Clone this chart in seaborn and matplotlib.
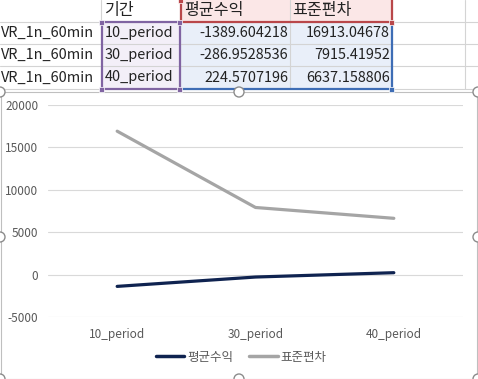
import matplotlib
matplotlib.use("Agg")
import matplotlib.pyplot as plt
import seaborn as sns
import pandas as pd
from matplotlib.patches import Rectangle, Circle
from matplotlib.lines import Line2D

# ---- data ----
row_names = ["VR_1n_60min", "VR_1n_60min", "VR_1n_60min"]
periods = ["10_period", "30_period", "40_period"]
mean_ret = [-1389.604218, -286.9528536, 224.5707196]
std_dev = [16913.04678, 7915.41952, 6637.158806]
col_headers = ["기간", "평균수익", "표준편차"]
series_names = ["평균수익", "표준편차"]
y_ticks = [-5000, 0, 5000, 10000, 15000, 20000]

sns.set_theme(style="white")
plt.rcParams["font.family"] = ["Noto Sans CJK KR", "DejaVu Sans"]

W, H = 478, 379
fig = plt.figure(figsize=(W / 100, H / 100), dpi=100)
fig.patch.set_facecolor("white")

# overlay axes in pixel coordinates for the spreadsheet part
bg = fig.add_axes([0, 0, 1, 1])
bg.set_xlim(0, W)
bg.set_ylim(H, 0)
bg.axis("off")

row_y = [0, 22, 44, 66, 89]
col_x = [101, 180, 290, 392, 465]
grid_c = "#D4D4D4"

# fills
bg.add_patch(Rectangle((181, 0), 211, 22, fc="#FBE7E7", ec="none", zorder=1))
bg.add_patch(Rectangle((102, 22), 78, 67, fc="#F3EFF8", ec="none", zorder=1))
bg.add_patch(Rectangle((181, 22), 211, 67, fc="#E9EFF9", ec="none", zorder=1))

# sheet grid lines
for y in row_y[1:]:
    bg.plot([0, W], [y, y], color=grid_c, lw=0.8, zorder=2)
for x in col_x:
    bg.plot([x, x], [0, 89], color=grid_c, lw=0.8, zorder=2)

# selection borders
purple = "#8064A2"
red = "#B9474A"
blue = "#3E6DB5"
bg.add_patch(Rectangle((102, 22), 78, 67, fc="none", ec=purple, lw=1.6, zorder=4))
bg.plot([181, 181, 392, 392], [0, 22, 22, 0], color=red, lw=1.6, zorder=4)
bg.plot([182, 392, 392], [89, 89, 22], color=blue, lw=1.6, zorder=4)
for (x, y, c) in [(102, 22, purple), (180, 22, purple), (102, 89, purple),
                  (180, 89, purple), (392, 22, red), (181, 0, red),
                  (392, 89, blue)]:
    bg.add_patch(Rectangle((x - 2.5, y - 2.5), 5, 5, fc=c, ec="white",
                           lw=0.5, zorder=5))

fs_tab = 10.4
tc = "#222222"
bg.text(105, 11, col_headers[0], fontsize=fs_tab + 1.2, va="center", ha="left", color=tc, zorder=6)
bg.text(184, 11, col_headers[1], fontsize=fs_tab + 1.2, va="center", ha="left", color=tc, zorder=6)
bg.text(292, 11, col_headers[2], fontsize=fs_tab + 1.2, va="center", ha="left", color=tc, zorder=6)
for i in range(3):
    yc = (row_y[i + 1] + row_y[i + 2]) / 2
    bg.text(1, yc, row_names[i], fontsize=fs_tab, va="center", ha="left", color=tc, zorder=6)
    bg.text(105, yc, periods[i], fontsize=fs_tab, va="center", ha="left", color=tc, zorder=6)
    bg.text(288, yc, "%.10g" % mean_ret[i], fontsize=fs_tab, va="center", ha="right", color=tc, zorder=6)
    bg.text(390, yc, "%.10g" % std_dev[i], fontsize=fs_tab, va="center", ha="right", color=tc, zorder=6)

# chart area frame
bg.add_patch(Rectangle((0.5, 92), W - 1.5, H - 92, fc="white", ec="#BFBFBF", lw=0.8, zorder=3))
for (x, y) in [(0, 92), (239, 92), (478, 92), (0, 237), (478, 237),
               (0, 379), (239, 379), (478, 379)]:
    bg.add_patch(Circle((x, y), 5, fc="white", ec="#8C8C8C", lw=1.0, zorder=7))

# ---- chart ----
df = pd.DataFrame({
    "period": periods * 2,
    "value": mean_ret + std_dev,
    "series": [series_names[0]] * 3 + [series_names[1]] * 3,
})
ax = fig.add_axes([48 / W, (H - 317) / H, 415 / W, (317 - 105) / H])
ax.set_facecolor("none")
sns.lineplot(data=df, x="period", y="value", hue="series", sort=False,
             palette=["#0F2350", "#A5A5A5"], linewidth=2.3, ax=ax, legend=False)
ax.set_xlim(-0.5, 2.5)
ax.set_ylim(-5000, 20000)
ax.set_yticks(y_ticks)
ax.set_yticklabels([str(t) for t in y_ticks])
ax.yaxis.grid(True, color="#D9D9D9", lw=0.8)
ax.set_axisbelow(True)
for s in ax.spines.values():
    s.set_visible(False)
ax.set_xlabel("")
ax.set_ylabel("")
ax.tick_params(axis="y", length=0, pad=7, labelsize=8.5, labelcolor="#595959")
ax.tick_params(axis="x", length=0, pad=8, labelsize=8.5, labelcolor="#595959")

handles = [Line2D([], [], color="#0F2350", lw=2.5), Line2D([], [], color="#A5A5A5", lw=2.5)]
fig.legend(handles, series_names, loc="center", bbox_to_anchor=(241 / W, 1 - 357 / H),
           ncol=2, frameon=False, fontsize=9, handlelength=2.3, handletextpad=0.2,
           columnspacing=1.3, labelcolor="#595959")

fig.savefig("out.png", dpi=100)
